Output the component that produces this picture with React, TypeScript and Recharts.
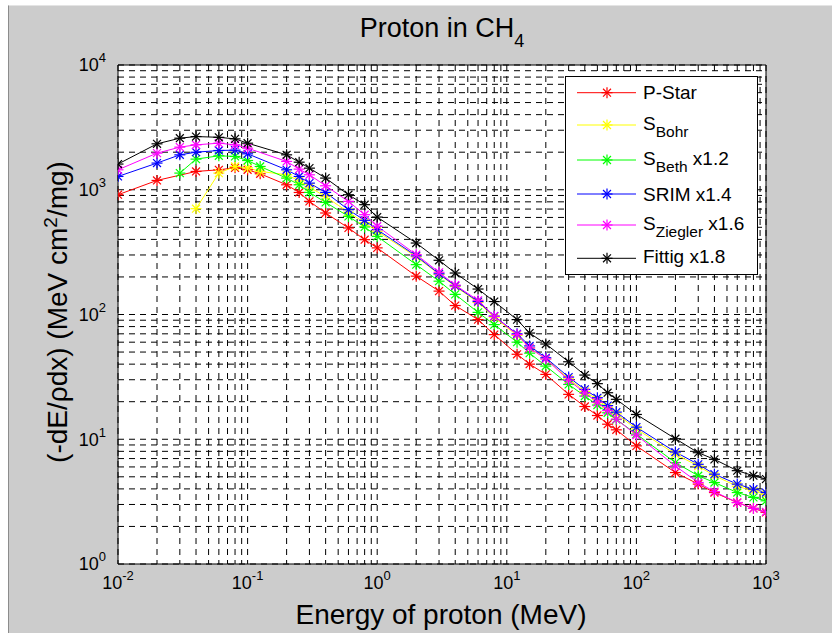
import React from 'react';
import { LineChart, Line, XAxis, YAxis, CartesianGrid, ReferenceArea } from 'recharts';

// Energy of proton (MeV)
const energies = [0.01, 0.02, 0.03, 0.04, 0.06, 0.08, 0.1, 0.125, 0.2, 0.25, 0.3, 0.4, 0.6, 0.8, 1, 2, 3, 4, 6, 8, 12, 15, 20, 30, 40, 50, 60, 70, 100, 200, 300, 400, 600, 800, 1000];

const pStar = [912, 1188, null, 1402, 1445, 1500, 1445, 1343, 1096, 951, 807, 651, 494, 398, 342, 203, 154, 118, 91, 69, 48, 40, 33.1, 22.9, 18.3, 15.5, 13.2, 11.9, 8.85, 5.41, 4.37, 3.74, 3.11, 2.79, 2.59];
const sBohr = [null, null, null, 705, 1360, 1536, 1500, 1402, 1320, 1180, 1050, 880, 660, 545, 465, 290, 210, 168, 125, 95, 68, 54, 44, 30.5, 24.2, 20.8, 18, 16, 12.1, 7.6, 6.1, 5.1, 4.2, 3.85, 3.6];
const sBeth = [null, null, 1360, 1760, 1871, 1849, 1715, 1536, 1240, 1096, 952, 792, 612, 503, 423, 251, 185, 145, 104, 83, 60, 49, 38.6, 27.5, 22.2, 18.8, 16.3, 14.4, 11.0, 6.5, 5.1, 4.5, 3.74, 3.42, 3.21];
const srim = [1278, 1636, 1905, 2000, 2064, 2077, 1941, null, 1445, 1278, 1130, 952, 692, 569, 479, 295, 212, 170, 127, 97, 70, 56, 45, 31.5, 25.1, 21.5, 18.6, 16.5, 12.5, 7.9, 6.3, 5.25, 4.37, 3.98, 3.74];
const sZiegler = [1445, 1965, 2195, 2291, 2362, 2291, 2154, null, 1686, 1463, 1318, 1076, 807, 631, 510, 302, 218, 172, 130, 97, 69, 54, 44, 29.8, 23.5, 19.8, 17, 14.5, 10.8, 6.1, 4.5, 3.8, 3.11, 2.79, 2.62];
const fittig = [1607, 2334, 2590, 2670, 2632, 2558, 2362, null, 1905, 1664, 1490, 1240, 912, 759, 604, 374, 272, 215, 160, 127, 91, 71, 58, 41.8, 32.7, 27.9, 23.6, 20.9, 15.8, 10.1, 7.8, 6.9, 5.6, 5.1, 4.8];

const xDecades = [0.01, 0.1, 1, 10, 100, 1000];
const yDecades = [1, 10, 100, 1000, 10000];

const FONT = '"Liberation Sans", Arial, Helvetica, sans-serif';

function withMinors(decades: number[]) {
  const out: number[] = [];
  for (let i = 0; i < decades.length - 1; i++) {
    for (let m = 1; m <= 9; m++) out.push(Number((decades[i] * m).toPrecision(4)));
  }
  out.push(decades[decades.length - 1]);
  return out;
}
const xTicks = withMinors(xDecades);
const yTicks = withMinors(yDecades);

type Series = { key: string; values: (number | null)[]; color: string; main: string; sub: string; tail: string };
const series: Series[] = [
  { key: 'pStar', values: pStar, color: '#ff0000', main: 'P-Star', sub: '', tail: '' },
  { key: 'sBohr', values: sBohr, color: '#ffff00', main: 'S', sub: 'Bohr', tail: '' },
  { key: 'sBeth', values: sBeth, color: '#00ff00', main: 'S', sub: 'Beth', tail: ' x1.2' },
  { key: 'srim', values: srim, color: '#0000ff', main: 'SRIM x1.4', sub: '', tail: '' },
  { key: 'sZiegler', values: sZiegler, color: '#ff00ff', main: 'S', sub: 'Ziegler', tail: ' x1.6' },
  { key: 'fittig', values: fittig, color: '#000000', main: 'Fittig x1.8', sub: '', tail: '' },
];

const data = energies.map((e, i) => {
  const row: Record<string, number | null> = { e };
  series.forEach((s) => {
    row[s.key] = s.values[i];
  });
  return row;
});

function decadeExp(v: number): number | null {
  const l = Math.log10(v);
  const r = Math.round(l);
  return Math.abs(l - r) < 1e-6 ? r : null;
}

const XTick = (props: any) => {
  const { x, payload } = props;
  const ex = decadeExp(Number(payload && payload.value));
  if (ex === null) return <g />;
  return (
    <text x={x} y={589} textAnchor="middle" fontFamily={FONT} fontSize={18} fill="#000">
      10<tspan dy={-9} fontSize={13}>{String(ex)}</tspan>
    </text>
  );
};

const YTick = (props: any) => {
  const { y, payload } = props;
  const ex = decadeExp(Number(payload && payload.value));
  if (ex === null) return <g />;
  return (
    <text x={106} y={y + 6.4} textAnchor="end" fontFamily={FONT} fontSize={18} fill="#000">
      10<tspan dy={-9} fontSize={13}>{String(ex)}</tspan>
    </text>
  );
};

function Star({ cx, cy, color, r = 5.5 }: { cx: number; cy: number; color: string; r?: number }) {
  const d = r * 0.72;
  return (
    <g stroke={color} strokeWidth={1.2} fill="none">
      <line x1={cx - r} y1={cy} x2={cx + r} y2={cy} />
      <line x1={cx} y1={cy - r} x2={cx} y2={cy + r} />
      <line x1={cx - d} y1={cy - d} x2={cx + d} y2={cy + d} />
      <line x1={cx - d} y1={cy + d} x2={cx + d} y2={cy - d} />
    </g>
  );
}

const makeDot = (s: Series) => (props: any) => {
  const { cx, cy, index, value } = props;
  const k = `${s.key}-${index}`;
  if (cx == null || cy == null || value == null || Number.isNaN(cy)) return <g key={k} />;
  return <Star key={k} cx={cx} cy={cy} color={s.color} />;
};

const legendRows = [
  { line: 92.7, base: 99.3 },
  { line: 125, base: 129.5 },
  { line: 160, base: 164.5 },
  { line: 194, base: 200.5 },
  { line: 225, base: 230 },
  { line: 258.3, base: 263 },
];

export default function App() {
  return (
    <div style={{ position: 'absolute', left: 0, top: 0, width: 832, height: 633, background: '#ffffff', overflow: 'hidden' }}>
      <div style={{ position: 'absolute', left: 8, top: 5, width: 824, height: 628, background: '#cccccc', borderLeft: '1px solid #8c8c8c', borderTop: '1px solid #e4e4e4' }} />
      <div style={{ position: 'absolute', left: 0, top: 0 }}>
        <LineChart width={832} height={633} data={data} margin={{ top: 65, right: 66, bottom: 39, left: 58 }}>
          <CartesianGrid stroke="#000" strokeWidth={1} strokeDasharray="6 5" fill="#ffffff" fillOpacity={1} />
          <XAxis
            dataKey="e"
            type="number"
            scale="log"
            domain={[0.01, 1000]}
            ticks={xTicks}
            interval={0}
            allowDataOverflow
            height={30}
            axisLine={false}
            tickLine={false}
            tick={XTick}
          />
          <YAxis
            type="number"
            scale="log"
            domain={[1, 10000]}
            ticks={yTicks}
            interval={0}
            allowDataOverflow
            width={60}
            axisLine={false}
            tickLine={false}
            tick={YTick}
          />
          {series.map((s) => (
            <Line
              key={s.key}
              dataKey={s.key}
              type="linear"
              stroke={s.color}
              strokeWidth={1}
              connectNulls
              dot={makeDot(s)}
              activeDot={false}
              isAnimationActive={false}
            />
          ))}
          <ReferenceArea x1={0.01} x2={1000} y1={1} y2={10000} fill="none" stroke="#000" strokeWidth={1} ifOverflow="visible" />
        </LineChart>
      </div>
      <svg width={832} height={633} style={{ position: 'absolute', left: 0, top: 0, pointerEvents: 'none' }}>
        <text x={442} y={36.7} textAnchor="middle" fontFamily={FONT} fontSize={27} fill="#000">
          Proton in CH<tspan dy={10} fontSize={18}>4</tspan>
        </text>
        <text x={441} y={624} textAnchor="middle" fontFamily={FONT} fontSize={28} fill="#000">
          Energy of proton (MeV)
        </text>
        <text transform="translate(67,312) rotate(-90)" textAnchor="middle" fontFamily={FONT} fontSize={28} fill="#000">
          (-dE/ρdx) (MeV cm<tspan dy={-10} fontSize={19}>2</tspan>
          <tspan dy={10}>/mg)</tspan>
        </text>
        <rect x={565.5} y={76.5} width={192} height={198} fill="#ffffff" stroke="#000" strokeWidth={1} />
        {series.map((s, i) => {
          const row = legendRows[i];
          return (
            <g key={s.key}>
              <line x1={577} y1={row.line} x2={636} y2={row.line} stroke={s.color} strokeWidth={1} />
              <Star cx={607} cy={row.line} color={s.color} />
              <text x={643} y={row.base} fontFamily={FONT} fontSize={19} fill="#000">
                {s.main}
                {s.sub ? <tspan dy={7} fontSize={15.5}>{s.sub}</tspan> : null}
                {s.tail ? <tspan dy={-7}>{s.tail}</tspan> : null}
              </text>
            </g>
          );
        })}
      </svg>
    </div>
  );
}
